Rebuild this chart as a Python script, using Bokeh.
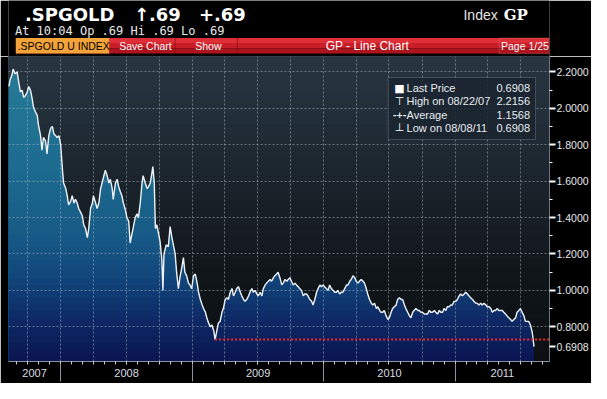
import numpy as np
import pandas as pd
from bokeh.plotting import figure
from bokeh.layouts import column
from bokeh.models import (Range1d, FixedTicker, NumeralTickFormatter, BoxAnnotation, Label,
                          DatetimeAxis)
from bokeh.embed import file_html
from bokeh.resources import INLINE

# ---------------- data ----------------
dates_2007 = ["2007-08-10", "2007-08-14", "2007-08-18", "2007-08-22", "2007-08-27", "2007-09-02",
              "2007-09-06", "2007-09-11", "2007-09-16", "2007-09-20", "2007-09-25", "2007-09-30",
              "2007-10-04", "2007-10-09", "2007-10-14", "2007-10-17", "2007-10-23", "2007-10-28",
              "2007-10-31", "2007-11-06", "2007-11-10", "2007-11-14", "2007-11-20", "2007-11-24",
              "2007-11-29", "2007-12-04", "2007-12-09", "2007-12-13", "2007-12-18", "2007-12-22",
              "2007-12-27"]
values_2007 = [2.12, 2.16, 2.18, 2.2156, 2.19, 2.20,
               2.15, 2.09, 2.10, 2.06, 2.07, 2.09,
               2.12, 2.10, 2.05, 2.01, 1.98, 1.96,
               1.91, 1.85, 1.77, 1.84, 1.82, 1.75,
               1.85, 1.89, 1.90, 1.86, 1.85, 1.84,
               1.85]

dates_2008 = ["2008-01-01", "2008-01-06", "2008-01-09", "2008-01-15", "2008-01-19", "2008-01-23",
              "2008-01-29", "2008-02-02", "2008-02-07", "2008-02-11", "2008-02-16", "2008-02-20",
              "2008-02-25", "2008-03-01", "2008-03-05", "2008-03-10", "2008-03-15", "2008-03-19",
              "2008-03-24", "2008-03-29", "2008-04-01", "2008-04-07", "2008-04-11", "2008-04-16",
              "2008-04-21", "2008-04-25", "2008-04-30", "2008-05-04", "2008-05-09", "2008-05-14",
              "2008-05-18", "2008-05-23", "2008-05-26", "2008-06-01", "2008-06-06", "2008-06-10",
              "2008-06-15", "2008-06-19", "2008-06-23", "2008-06-29", "2008-07-03", "2008-07-08",
              "2008-07-12", "2008-07-17", "2008-07-22", "2008-07-26", "2008-07-31", "2008-08-04",
              "2008-08-09", "2008-08-14", "2008-08-17", "2008-08-23", "2008-08-28", "2008-09-01",
              "2008-09-06", "2008-09-10", "2008-09-13", "2008-09-17", "2008-09-20", "2008-09-24",
              "2008-09-28", "2008-10-03", "2008-10-08", "2008-10-11", "2008-10-14", "2008-10-20",
              "2008-10-26", "2008-10-31", "2008-11-05", "2008-11-09", "2008-11-14", "2008-11-18",
              "2008-11-23", "2008-11-28", "2008-12-02", "2008-12-07", "2008-12-11", "2008-12-16",
              "2008-12-21", "2008-12-25", "2008-12-30"]
values_2008 = [1.80, 1.66, 1.59, 1.56, 1.52, 1.47,
               1.49, 1.52, 1.48, 1.50, 1.48, 1.45,
               1.43, 1.41, 1.36, 1.34, 1.29, 1.34,
               1.45, 1.48, 1.52, 1.48, 1.45, 1.48,
               1.56, 1.59, 1.63, 1.66, 1.63, 1.59,
               1.61, 1.56, 1.50, 1.59, 1.61, 1.57,
               1.54, 1.52, 1.48, 1.44, 1.40, 1.38,
               1.26, 1.31, 1.36, 1.40, 1.42, 1.40,
               1.48, 1.59, 1.63, 1.59, 1.56, 1.57,
               1.59, 1.64, 1.68, 1.59, 1.34, 1.36,
               1.32, 1.27, 1.17, 1.00, 1.20, 1.25,
               1.24, 1.35, 1.29, 1.25, 1.20, 1.10,
               1.01, 1.08, 1.12, 1.18, 1.10, 1.08,
               1.04, 1.03, 1.01]

dates_2009 = ["2009-01-04", "2009-01-09", "2009-01-14", "2009-01-18", "2009-01-23", "2009-01-28",
              "2009-02-01", "2009-02-06", "2009-02-10", "2009-02-15", "2009-02-20", "2009-02-24",
              "2009-03-01", "2009-03-05", "2009-03-10", "2009-03-14", "2009-03-19", "2009-03-24",
              "2009-03-28", "2009-04-02", "2009-04-07", "2009-04-11", "2009-04-16", "2009-04-21",
              "2009-04-25", "2009-04-30", "2009-05-04", "2009-05-09", "2009-05-14", "2009-05-18",
              "2009-05-23", "2009-05-27", "2009-06-01", "2009-06-06", "2009-06-10", "2009-06-15",
              "2009-06-19", "2009-06-24", "2009-06-29", "2009-07-03", "2009-07-08", "2009-07-13",
              "2009-07-17", "2009-07-22", "2009-07-26", "2009-07-31", "2009-08-05", "2009-08-09",
              "2009-08-14", "2009-08-18", "2009-08-23", "2009-08-27", "2009-09-01", "2009-09-06",
              "2009-09-10", "2009-09-15", "2009-09-20", "2009-09-24", "2009-09-29", "2009-10-03",
              "2009-10-08", "2009-10-13", "2009-10-17", "2009-10-22", "2009-10-26", "2009-10-31",
              "2009-11-05", "2009-11-09", "2009-11-14", "2009-11-18", "2009-11-23", "2009-11-28",
              "2009-12-02", "2009-12-07", "2009-12-12", "2009-12-16", "2009-12-21", "2009-12-25",
              "2009-12-30"]
values_2009 = [1.08, 1.09, 1.04, 0.99, 0.95, 0.92,
               0.90, 0.88, 0.85, 0.82, 0.80, 0.81,
               0.78, 0.73, 0.78, 0.82, 0.83, 0.88,
               0.90, 0.95, 0.96, 0.95, 0.99, 1.01,
               0.97, 0.99, 1.01, 1.02, 0.99, 0.97,
               0.95, 0.94, 0.95, 0.97, 0.99, 1.01,
               0.99, 1.00, 0.98, 0.97, 0.99, 0.97,
               1.01, 1.03, 1.04, 1.05, 1.06, 1.05,
               1.07, 1.08, 1.09, 1.10, 1.07, 1.03,
               1.04, 1.06, 1.05, 1.06, 1.07, 1.05,
               1.03, 1.04, 1.03, 1.02, 1.01, 1.00,
               0.97, 0.98, 0.98, 0.97, 0.95, 0.94,
               0.92, 0.95, 0.99, 1.01, 1.03, 1.02,
               1.03]

dates_2010 = ["2010-01-03", "2010-01-08", "2010-01-13", "2010-01-17", "2010-01-22", "2010-01-27",
              "2010-01-31", "2010-02-05", "2010-02-09", "2010-02-14", "2010-02-19", "2010-02-23",
              "2010-02-28", "2010-03-05", "2010-03-09", "2010-03-14", "2010-03-18", "2010-03-23",
              "2010-03-28", "2010-04-01", "2010-04-06", "2010-04-10", "2010-04-15", "2010-04-20",
              "2010-04-24", "2010-04-29", "2010-05-03", "2010-05-08", "2010-05-13", "2010-05-17",
              "2010-05-22", "2010-05-27", "2010-05-31", "2010-06-05", "2010-06-09", "2010-06-14",
              "2010-06-18", "2010-06-23", "2010-06-28", "2010-07-02", "2010-07-07", "2010-07-11",
              "2010-07-16", "2010-07-21", "2010-07-25", "2010-07-30", "2010-08-04", "2010-08-08",
              "2010-08-13", "2010-08-17", "2010-08-22", "2010-08-27", "2010-08-31", "2010-09-05",
              "2010-09-09", "2010-09-14", "2010-09-19", "2010-09-23", "2010-09-28", "2010-10-02",
              "2010-10-07", "2010-10-12", "2010-10-16", "2010-10-21", "2010-10-25", "2010-10-30",
              "2010-11-04", "2010-11-08", "2010-11-13", "2010-11-18", "2010-11-22", "2010-11-27",
              "2010-12-01", "2010-12-06", "2010-12-10", "2010-12-15", "2010-12-20", "2010-12-24",
              "2010-12-29"]
values_2010 = [1.02, 1.01, 1.00, 1.03, 1.01, 1.00,
               0.99, 0.99, 1.00, 0.98, 0.99, 0.99,
               1.01, 1.03, 1.03, 1.05, 1.06, 1.08,
               1.07, 1.05, 1.04, 1.05, 1.06, 1.05,
               1.04, 1.01, 0.98, 0.95, 0.93, 0.92,
               0.93, 0.90, 0.91, 0.89, 0.88, 0.88,
               0.89, 0.86, 0.84, 0.85, 0.88, 0.90,
               0.91, 0.92, 0.95, 0.96, 0.95, 0.95,
               0.92, 0.90, 0.88, 0.86, 0.85, 0.88,
               0.89, 0.90, 0.89, 0.89, 0.88, 0.88,
               0.87, 0.87, 0.87, 0.89, 0.88, 0.88,
               0.89, 0.88, 0.87, 0.89, 0.88, 0.88,
               0.90, 0.89, 0.91, 0.91, 0.92, 0.92,
               0.94]

dates_2011 = ["2011-01-03", "2011-01-07", "2011-01-12", "2011-01-16", "2011-01-21", "2011-01-26",
              "2011-01-30", "2011-02-04", "2011-02-08", "2011-02-13", "2011-02-18", "2011-02-22",
              "2011-02-27", "2011-03-03", "2011-03-08", "2011-03-13", "2011-03-17", "2011-03-22",
              "2011-03-27", "2011-03-31", "2011-04-05", "2011-04-10", "2011-04-14", "2011-04-19",
              "2011-04-23", "2011-04-28", "2011-05-02", "2011-05-07", "2011-05-12", "2011-05-16",
              "2011-05-21", "2011-05-25", "2011-05-30", "2011-06-04", "2011-06-08", "2011-06-13",
              "2011-06-18", "2011-06-22", "2011-06-27", "2011-07-01", "2011-07-06", "2011-07-11",
              "2011-07-15", "2011-07-20", "2011-07-24", "2011-07-29", "2011-08-03", "2011-08-08"]
values_2011 = [0.94, 0.95, 0.97, 0.98, 0.97, 0.98,
               0.99, 0.98, 0.97, 0.96, 0.95, 0.94,
               0.93, 0.93, 0.92, 0.93, 0.92, 0.93,
               0.92, 0.91, 0.91, 0.90, 0.88, 0.89,
               0.89, 0.90, 0.89, 0.89, 0.89, 0.88,
               0.87, 0.86, 0.85, 0.84, 0.83, 0.84,
               0.85, 0.88, 0.89, 0.90, 0.88, 0.86,
               0.83, 0.83, 0.83, 0.81, 0.77, 0.6908]

y_ticks = [0.8, 1.0, 1.2, 1.4, 1.6, 1.8, 2.0, 2.2]
year_labels = ["2007", "2008", "2009", "2010", "2011"]

legend_icons = ["\u25a0", "\u22a4", "-+-", "\u22a5"]
legend_names = ["Last Price", "High on 08/22/07", "Average", "Low on 08/08/11"]
legend_values = ["0.6908", "2.2156", "1.1568", "0.6908"]
last_price_text = "0.6908"

header_symbol = ".SPGOLD"
header_change = "\u2191.69"
header_net = "+.69"
header_quote = "At 10:04  Op .69 Hi .69 Lo .69"
header_index = "Index"
header_code = "GP"
tab_texts = [".SPGOLD U INDEX", "Save Chart", "Show"]
bar_title = "GP - Line Chart"
page_text = "Page 1/25"

# ---------------- assemble ----------------
dates = dates_2007 + dates_2008 + dates_2009 + dates_2010 + dates_2011
values = values_2007 + values_2008 + values_2009 + values_2010 + values_2011
xs = pd.to_datetime(dates).values.astype("datetime64[ms]").astype("int64").astype(float).tolist()
ys = list(values)

def to_ms(s):
    return float(np.datetime64(s, "ms").astype("int64"))

X0, X1 = to_ms("2007-08-09"), to_ms("2011-09-20")
Y_LO, Y_HI = 0.6095, 2.2847

W, H, HEAD = 591, 383, 56
MAIN_H = H - HEAD
FL, FR = 8, 551              # frame left / right (canvas px)
BOTTOM = 22                  # bottom axis band of the main figure
FB = MAIN_H - BOTTOM         # frame bottom inside the main figure

# ---------------- header figure (pixel coordinates, y measured from the top) ----------------
h = figure(width=W, height=HEAD, x_range=Range1d(0, W), y_range=Range1d(0, HEAD),
           output_backend="svg", toolbar_location=None, min_border=0,
           x_axis_location=None, y_axis_location=None,
           background_fill_color="black", border_fill_color="black", outline_line_color=None)
h.grid.visible = False

def hbox(x0, y0, x1, y1, fill, line=None, lw=1):
    h.add_layout(BoxAnnotation(left=x0, right=x1, top=HEAD - y0, bottom=HEAD - y1,
                               fill_color=fill, fill_alpha=1.0, line_color=line,
                               line_width=lw, level="overlay"))

def htext(x, y, t, size, color, font="Liberation Sans", style="normal", align="left"):
    # y is the vertical centre of the capitals, in px from the top
    h.add_layout(Label(x=x, y=HEAD - y, text=t, text_font=font, text_font_size=f"{size}px",
                       text_color=color, text_font_style=style, text_align=align,
                       text_baseline="middle", level="overlay"))

htext(18, 14, header_symbol, 18, "white", font="DejaVu Sans", style="bold")
htext(137, 14, header_change, 18, "white", font="DejaVu Sans", style="bold")
htext(208, 14, header_net, 18, "white", font="DejaVu Sans", style="bold")
htext(497, 14, header_index, 14, "#e4e4e4")
htext(541, 14, header_code, 15, "white", font="DejaVu Serif", style="bold")
htext(7, 30.5, header_quote, 12, "#e8e8e8", font="DejaVu Sans Mono")

hbox(8, 37.5, W, 42.5, "#de2e38")
hbox(8, 42.5, W, 48, "#c81e28")
hbox(8, 48, W, 53, "#ae141e")
hbox(8, 37.5, 110, 53, "#f2a33a")
for xd in (182, 250):
    hbox(xd, 37.5, xd, 53, None, line="#78080e")
hbox(536, 37.5, 598, 53, None, line="#f08080")
htext(10, 45.5, tab_texts[0], 10.5, "black")
htext(121, 45.5, tab_texts[1], 10.5, "white")
htext(204, 45.5, tab_texts[2], 10.5, "white")
htext(392, 45.5, bar_title, 12, "white", align="center")
htext(538, 45.5, page_text, 10.5, "white")

# ---------------- main figure ----------------
p = figure(width=W, height=MAIN_H, x_axis_type="datetime", y_axis_location="right",
           x_range=Range1d(X0, X1), y_range=Range1d(Y_LO, Y_HI),
           output_backend="svg", toolbar_location=None,
           min_border_left=FL, min_border_right=W - FR, min_border_top=0,
           min_border_bottom=BOTTOM,
           background_fill_color="#0c1014", border_fill_color="black",
           outline_line_color="#3c4650")

def hex_rgb(c):
    return tuple(int(c[i:i + 2], 16) for i in (1, 3, 5))

def interp(stops, v):
    if v <= stops[0][0]:
        return stops[0][1]
    for (v0, c0), (v1, c1) in zip(stops, stops[1:]):
        if v <= v1:
            t = (v - v0) / (v1 - v0)
            a, b = hex_rgb(c0), hex_rgb(c1)
            return "#%02x%02x%02x" % tuple(round(a[i] + (b[i] - a[i]) * t) for i in range(3))
    return stops[-1][1]

bg_stops = [(0.61, "#0c1014"), (1.0, "#0f1418"), (1.25, "#141a1f"), (1.6, "#1b242c"),
            (1.95, "#222e38"), (2.29, "#283642")]
fill_stops = [(0.61, "#0a1652"), (0.85, "#0e2a66"), (1.05, "#11447a"), (1.3, "#175a86"),
              (1.7, "#1d6c90"), (2.29, "#287c98")]

NB = 36
bedges = np.linspace(Y_LO, Y_HI, NB + 1)
for k in range(NB, 0, -1):
    p.add_layout(BoxAnnotation(left=X0, right=X1, bottom=Y_LO, top=float(bedges[k]),
                               fill_color=interp(bg_stops, (bedges[k - 1] + bedges[k]) / 2),
                               fill_alpha=1.0, line_color=None, level="image"))

def clip_top(xv, yv, hi):
    bx, by = [xv[0]], [min(yv[0], hi)]
    for i in range(1, len(xv)):
        x0, y0, x1, y1 = xv[i - 1], yv[i - 1], xv[i], yv[i]
        if (y0 - hi) * (y1 - hi) < 0:
            t = (hi - y0) / (y1 - y0)
            bx.append(x0 + t * (x1 - x0))
            by.append(hi)
        bx.append(x1)
        by.append(min(y1, hi))
    return bx, by

NF = 48
fedges = np.linspace(Y_LO, Y_HI, NF + 1)
for k in range(NF, 0, -1):
    bx, by = clip_top(xs, ys, float(fedges[k]))
    p.varea(x=bx, y1=Y_LO, y2=by,
            fill_color=interp(fill_stops, (fedges[k - 1] + fedges[k]) / 2), level="underlay")

quarters = [float(t) for t in pd.date_range("2007-10-01", "2011-07-01", freq="QS")
            .values.astype("datetime64[ms]").astype("int64")]
months = [float(t) for t in pd.date_range("2007-09-01", "2011-09-01", freq="MS")
          .values.astype("datetime64[ms]").astype("int64")]
for g in (p.xgrid, p.ygrid):
    g.grid_line_color = "#a8b4c0"
    g.grid_line_alpha = 0.55
    g.grid_line_dash = "2 2"
    g.grid_line_width = 1
    g.level = "glyph"
p.xgrid.ticker = FixedTicker(ticks=quarters)
p.ygrid.ticker = FixedTicker(ticks=y_ticks)

p.line(xs, ys, line_color="#eef2f6", line_width=1.4, level="annotation")
i_low = int(np.argmin(ys[:-1]))
p.segment(x0=[xs[i_low]], y0=[ys[i_low]], x1=[X1], y1=[ys[i_low]],
          line_color="#f02828", line_width=2, line_dash="2 2", level="annotation")

# right axis (last price carried as an extra labelled tick)
ya = p.yaxis[0]
ya.ticker = FixedTicker(ticks=y_ticks + [ys[-1]],
                        minor_ticks=[t + 0.1 for t in y_ticks[:-1]])
ya.formatter = NumeralTickFormatter(format="0.0000")
ya.major_label_overrides = {ys[-1]: last_price_text}
ya.axis_line_color = "#6a7480"
ya.major_tick_line_color = "white"
ya.major_tick_line_width = 2
ya.major_tick_out = 6
ya.major_tick_in = 0
ya.minor_tick_line_color = "white"
ya.minor_tick_out = 3
ya.minor_tick_in = 0
ya.major_label_standoff = 1
ya.major_label_text_font = "Liberation Sans"
ya.major_label_text_font_size = "10.5px"
ya.major_label_text_color = "#e8e8e8"

# bottom axis A: monthly ticks
xa = p.xaxis[0]
xa.ticker = FixedTicker(ticks=months)
xa.major_label_overrides = {m: "" for m in months}
xa.major_label_text_font_size = "1px"
xa.major_label_standoff = 0
xa.axis_line_color = "#8a949e"
xa.major_tick_line_color = "#c8d0d8"
xa.major_tick_out = 3
xa.major_tick_in = 0
xa.minor_tick_line_color = None

# bottom axis B: year labels centred in each visible year, year separators as minor ticks
jan1 = [to_ms(f"{int(y) + 1}-01-01") for y in year_labels[:-1]]
bounds = [X0] + jan1 + [X1]
centers = [float(round((a + b) / 2)) for a, b in zip(bounds[:-1], bounds[1:])]
xb = DatetimeAxis(ticker=FixedTicker(ticks=centers, minor_ticks=jan1),
                  major_label_overrides={c: lab for c, lab in zip(centers, year_labels)},
                  axis_line_color=None, major_tick_line_color=None,
                  major_tick_out=0, major_tick_in=0,
                  minor_tick_line_color="#8a949e", minor_tick_in=0, minor_tick_out=17,
                  major_label_standoff=-13, major_label_text_font="Liberation Sans",
                  major_label_text_font_size="11px", major_label_text_color="#d8dde2")
p.add_layout(xb, "below")

# legend panel (placed in canvas pixels of the main figure's frame)
def dx(xc):
    return X0 + (xc - FL) / (FR - FL) * (X1 - X0)

def dy(yc):
    return Y_HI - (yc - HEAD) / FB * (Y_HI - Y_LO)

p.add_layout(BoxAnnotation(left=dx(389), right=dx(537), top=dy(77), bottom=dy(139),
                           fill_color="#1a2530", fill_alpha=0.85, line_color="#9aa4ae",
                           line_width=1, level="overlay"))
for i, (ic, nm, vl) in enumerate(zip(legend_icons, legend_names, legend_values)):
    yc = 87.5 + i * 13.3
    p.add_layout(Label(x=dx(400.5), y=dy(yc), text=ic, text_font="DejaVu Sans",
                       text_font_size="8px" if i == 2 else "11px",
                       text_font_style="bold" if i == 2 else "normal",
                       text_color="white", text_align="center", text_baseline="middle",
                       level="overlay"))
    p.add_layout(Label(x=dx(407.5), y=dy(yc), text=nm, text_font="Liberation Sans",
                       text_font_size="11px", text_color="#e8ecf0", text_baseline="middle",
                       level="overlay"))
    p.add_layout(Label(x=dx(531.5), y=dy(yc), text=vl, text_font="Liberation Sans",
                       text_font_size="11px", text_color="#e8ecf0", text_align="right",
                       text_baseline="middle", level="overlay"))

layout = column(h, p, spacing=0)
open("out.html", "w").write(file_html(layout, INLINE))
